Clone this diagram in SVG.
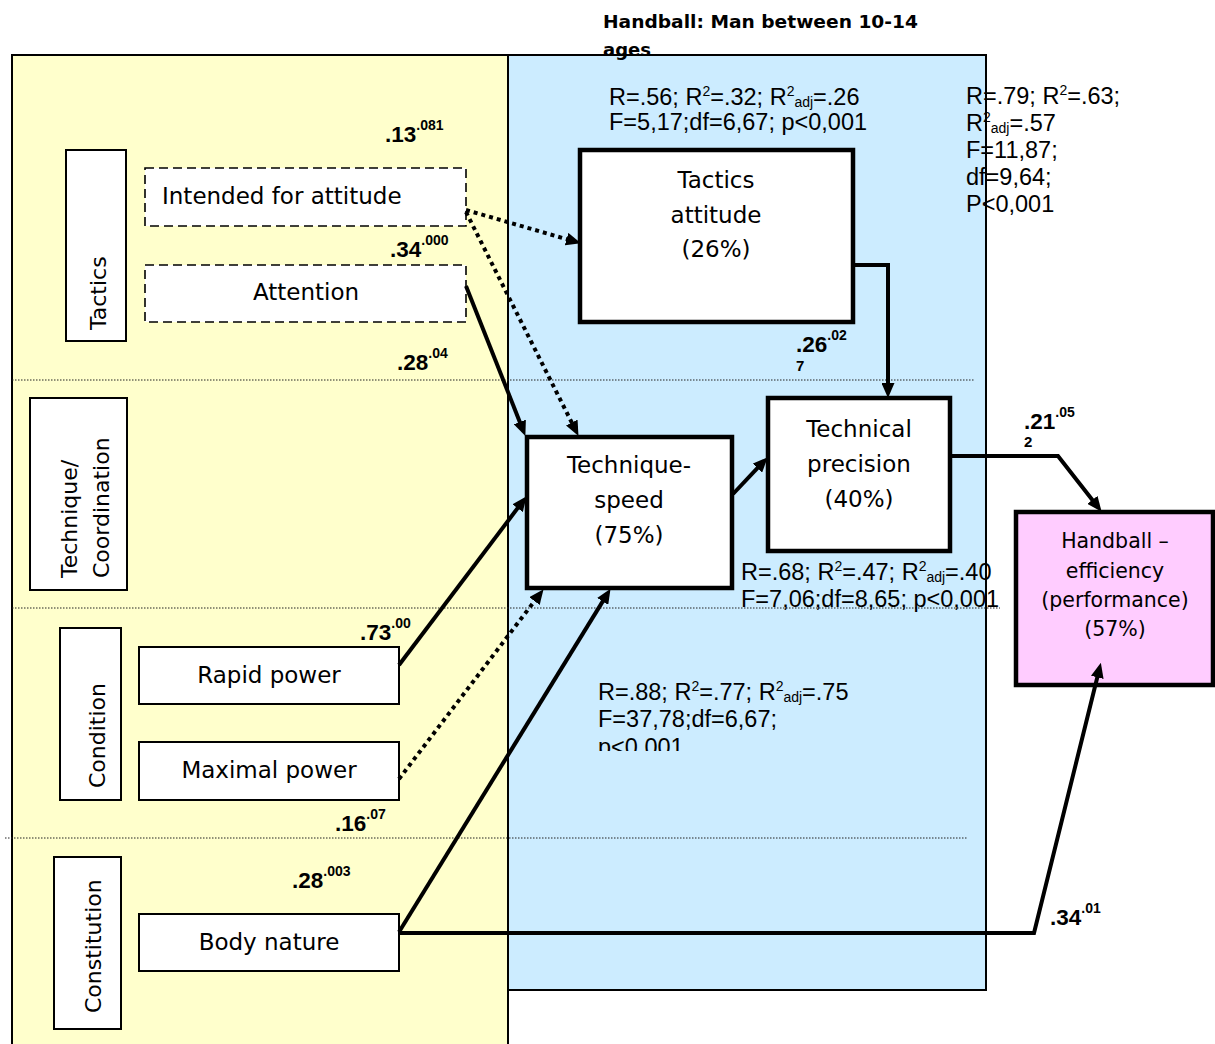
<svg xmlns="http://www.w3.org/2000/svg" width="1215" height="1044" viewBox="0 0 1215 1044">
<defs>
<style>
.nt{font-family:"DejaVu Sans",sans-serif;font-size:23px;fill:#000}
.lt{font-family:"DejaVu Sans",sans-serif;font-size:22px;fill:#000}
.ht{font-family:"DejaVu Sans",sans-serif;font-size:20.5px;fill:#000}
.st{font-family:"Liberation Sans",Arial,sans-serif;font-size:23.5px;fill:#000}
.cf{font-family:"Liberation Sans",Arial,sans-serif;font-size:22.5px;font-weight:bold;fill:#000}
.box{fill:#fff;stroke:#000;stroke-width:2}
.dbox{fill:#fff;stroke:#000;stroke-width:1.6;stroke-dasharray:9 5}
.tbox{fill:#fff;stroke:#000;stroke-width:4.5}
.sep{stroke:#222;stroke-width:1;stroke-dasharray:1.5 1.5;fill:none}
.ln{stroke:#000;stroke-width:4;fill:none;marker-end:url(#ah)}
.dl{stroke:#000;stroke-width:4;fill:none;stroke-dasharray:4 4;marker-end:url(#ah)}
</style>
<marker id="ah" viewBox="0 0 15 13" refX="1" refY="6.5" markerWidth="15" markerHeight="13" markerUnits="userSpaceOnUse" orient="auto">
<path d="M0,0 L15,6.5 L0,13 z" fill="#000"/>
</marker>
<clipPath id="clipLow"><rect x="500" y="600" width="480" height="151"/></clipPath>
</defs>

<g id="panels">
<rect x="12" y="55" width="496" height="1010" fill="#FFFFCC" stroke="#000" stroke-width="2"/>
<rect x="508" y="55" width="478" height="935" fill="#CCECFF" stroke="#000" stroke-width="2"/>
<line class="sep" x1="12" y1="380" x2="975" y2="380"/>
<line class="sep" x1="12" y1="608" x2="1000" y2="608"/>
<line class="sep" x1="5" y1="838" x2="968" y2="838"/>
</g>

<g id="title">
<text x="603" y="28" font-family="DejaVu Sans,sans-serif" font-size="18" font-weight="bold" textLength="315" lengthAdjust="spacingAndGlyphs">Handball: Man between 10-14</text>
<text x="603" y="56" font-family="DejaVu Sans,sans-serif" font-size="18" font-weight="bold">ages</text>
</g>

<g id="node-tactics-label">
<rect class="box" x="66" y="150" width="60" height="191"/>
<text class="lt" transform="translate(106,330) rotate(-90)">Tactics</text>
</g>
<g id="node-intended">
<rect class="dbox" x="145" y="168" width="321" height="58"/>
<text class="nt" x="162" y="204">Intended for attitude</text>
</g>
<g id="node-attention">
<rect class="dbox" x="145" y="265" width="321" height="57"/>
<text class="nt" x="306" y="300" text-anchor="middle">Attention</text>
</g>
<g id="node-techcoord-label">
<rect class="box" x="30" y="398" width="97" height="192"/>
<text class="lt" transform="translate(77,578) rotate(-90)">Technique/</text>
<text class="lt" transform="translate(109,578) rotate(-90)">Coordination</text>
</g>
<g id="node-condition-label">
<rect class="box" x="60" y="628" width="61" height="172"/>
<text class="lt" transform="translate(105,788) rotate(-90)">Condition</text>
</g>
<g id="node-rapid">
<rect class="box" x="139" y="647" width="260" height="57"/>
<text class="nt" x="269" y="683" text-anchor="middle">Rapid power</text>
</g>
<g id="node-maximal">
<rect class="box" x="139" y="742" width="260" height="58"/>
<text class="nt" x="269" y="778" text-anchor="middle">Maximal power</text>
</g>
<g id="node-constitution-label">
<rect class="box" x="54" y="857" width="67" height="172"/>
<text class="lt" transform="translate(101,1013) rotate(-90)">Constitution</text>
</g>
<g id="node-body">
<rect class="box" x="139" y="914" width="260" height="57"/>
<text class="nt" x="269" y="950" text-anchor="middle">Body nature</text>
</g>
<g id="node-tactics-attitude">
<rect class="tbox" x="580" y="150" width="273" height="172"/>
<text class="nt" x="716" y="188" text-anchor="middle">Tactics</text>
<text class="nt" x="716" y="223" text-anchor="middle">attitude</text>
<text class="nt" x="716" y="257" text-anchor="middle">(26%)</text>
</g>
<g id="node-technique-speed">
<rect class="tbox" x="527" y="437" width="205" height="151"/>
<text class="nt" x="629" y="473" text-anchor="middle">Technique-</text>
<text class="nt" x="629" y="508" text-anchor="middle">speed</text>
<text class="nt" x="629" y="543" text-anchor="middle">(75%)</text>
</g>
<g id="node-technical-precision">
<rect class="tbox" x="768" y="398" width="182" height="153"/>
<text class="nt" x="859" y="437" text-anchor="middle">Technical</text>
<text class="nt" x="859" y="472" text-anchor="middle">precision</text>
<text class="nt" x="859" y="507" text-anchor="middle">(40%)</text>
</g>
<g id="node-handball">
<rect class="tbox" x="1016" y="512" width="197" height="173" style="fill:#FFCCFF"/>
<text class="ht" x="1115" y="548" text-anchor="middle">Handball –</text>
<text class="ht" x="1115" y="578" text-anchor="middle">efficiency</text>
<text class="ht" x="1115" y="607" text-anchor="middle">(performance)</text>
<text class="ht" x="1115" y="636" text-anchor="middle">(57%)</text>
</g>

<g id="connectors">
<path class="dl" d="M466,210 L567.5,239.4"/>
<path class="dl" d="M466,212 L572.2,423.4"/>
<path class="ln" d="M466,286 L520.2,422.9"/>
<path class="ln" d="M853,265 L888,265 L888,384"/>
<path class="ln" d="M733,494 L758.1,467.4"/>
<path class="ln" d="M399,665 L518.2,507.4"/>
<path class="dl" d="M399,779 L535.1,600.3"/>
<path class="ln" d="M399,932 L603.2,600.6"/>
<path class="ln" d="M950,456 L1058,456 L1093,500.7"/>
<path class="ln" d="M399,933 L1034,933 L1097.5,676.4"/>
</g>

<g id="stats">
<text class="st" x="609" y="105">R=.56; R<tspan dy="-9" font-size="14">2</tspan><tspan dy="9">=.32; R</tspan><tspan dy="-9" font-size="14">2</tspan><tspan dy="11" font-size="14">adj</tspan><tspan dy="-2">=.26</tspan></text>
<text class="st" x="609" y="130">F=5,17;df=6,67; p&lt;0,001</text>

<text class="st" x="966" y="104">R=.79; R<tspan dy="-9" font-size="14">2</tspan><tspan dy="9">=.63;</tspan></text>
<text class="st" x="966" y="131">R<tspan dy="-9" font-size="14">2</tspan><tspan dy="11" font-size="14">adj</tspan><tspan dy="-2">=.57</tspan></text>
<text class="st" x="966" y="158">F=11,87;</text>
<text class="st" x="966" y="185">df=9,64;</text>
<text class="st" x="966" y="212">P&lt;0,001</text>

<text class="st" x="741" y="580">R=.68; R<tspan dy="-9" font-size="14">2</tspan><tspan dy="9">=.47; R</tspan><tspan dy="-9" font-size="14">2</tspan><tspan dy="11" font-size="14">adj</tspan><tspan dy="-2">=.40</tspan></text>
<text class="st" x="741" y="607">F=7,06;df=8,65; p&lt;0,001</text>

<g clip-path="url(#clipLow)">
<text class="st" x="598" y="700">R=.88; R<tspan dy="-9" font-size="14">2</tspan><tspan dy="9">=.77; R</tspan><tspan dy="-9" font-size="14">2</tspan><tspan dy="11" font-size="14">adj</tspan><tspan dy="-2">=.75</tspan></text>
<text class="st" x="598" y="727">F=37,78;df=6,67;</text>
<text class="st" x="598" y="755">p&lt;0,001</text>
</g>
</g>

<g id="coefficients">
<text class="cf" x="385" y="142">.13<tspan dy="-12" font-size="14">.081</tspan></text>
<text class="cf" x="390" y="257">.34<tspan dy="-12" font-size="14">.000</tspan></text>
<text class="cf" x="397" y="370">.28<tspan dy="-12" font-size="14">.04</tspan></text>
<text class="cf" x="796" y="352">.26<tspan dy="-12" font-size="14">.02</tspan></text>
<text class="cf" x="796" y="371" style="font-size:15px">7</text>
<text class="cf" x="1024" y="429">.21<tspan dy="-12" font-size="14">.05</tspan></text>
<text class="cf" x="1024" y="447" style="font-size:15px">2</text>
<text class="cf" x="360" y="640">.73<tspan dy="-12" font-size="14">.00</tspan></text>
<text class="cf" x="335" y="831">.16<tspan dy="-12" font-size="14">.07</tspan></text>
<text class="cf" x="292" y="888">.28<tspan dy="-12" font-size="14">.003</tspan></text>
<text class="cf" x="1050" y="925">.34<tspan dy="-12" font-size="14">.01</tspan></text>
</g>
</svg>
